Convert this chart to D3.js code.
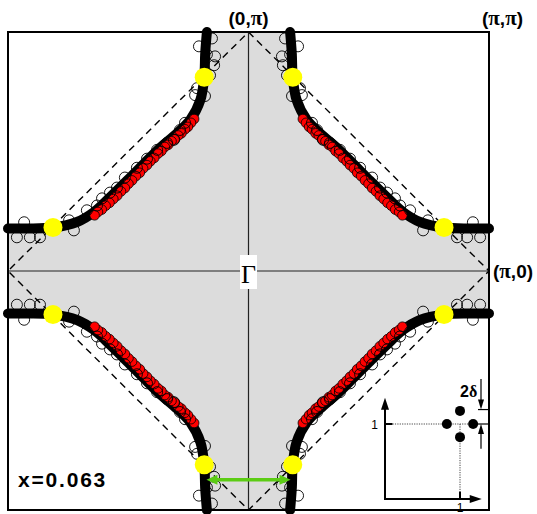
<!DOCTYPE html>
<html>
<head>
<meta charset="utf-8">
<script src="https://cdn.jsdelivr.net/npm/d3@7"></script>
<style>
  body { margin: 0; background: #fff; }
  text { font-family: "Liberation Sans", Arial, sans-serif; }
</style>
</head>
<body>
<svg width="537" height="514"></svg>
<script>
var width = 537,
    height = 514;

// Fermi surface, upper-right quadrant, in units of pi
var fsKx = [0.173, 0.180, 0.184, 0.200, 0.242, 0.310, 0.367, 0.435, 0.505, 0.575, 0.642, 0.713, 0.813, 0.921, 1.0];
var fsKy = [1.0, 0.911, 0.811, 0.716, 0.633, 0.565, 0.516, 0.449, 0.378, 0.309, 0.247, 0.205, 0.182, 0.178, 0.178];

// measured points (red filled), upper-right quadrant
var redKx = [0.226, 0.239, 0.252, 0.264, 0.279, 0.292, 0.306, 0.320, 0.334, 0.348, 0.362, 0.376, 0.392, 0.408, 0.422,
             0.438, 0.452, 0.468, 0.484, 0.499, 0.514, 0.530, 0.546, 0.562, 0.578, 0.594, 0.610, 0.626, 0.640];
var redKy = [0.636, 0.620, 0.603, 0.593, 0.576, 0.567, 0.551, 0.543, 0.528, 0.519, 0.502, 0.491, 0.473, 0.459, 0.443,
             0.429, 0.411, 0.397, 0.379, 0.365, 0.347, 0.333, 0.315, 0.301, 0.285, 0.273, 0.257, 0.247, 0.233];

// measured points (open), upper-right quadrant
var openKx = [0.152, 0.206, 0.139, 0.143, 0.160, 0.173, 0.214, 0.181, 0.222, 0.264, 0.285, 0.310, 0.339, 0.380, 0.422,
              0.464, 0.514, 0.547, 0.576, 0.609, 0.630, 0.672, 0.746, 0.726, 0.933, 0.867, 0.909, 0.963];
var openKy = [0.973, 0.940, 0.898, 0.861, 0.819, 0.906, 0.765, 0.732, 0.736, 0.620, 0.590, 0.549, 0.536, 0.507, 0.470,
              0.432, 0.391, 0.349, 0.328, 0.304, 0.274, 0.254, 0.212, 0.170, 0.204, 0.141, 0.141, 0.141];

// hot spots (yellow), upper-right quadrant
var hotKx = [0.184, 0.813];
var hotKy = [0.811, 0.182];

var arrowKy = -0.873;   // green 2*delta arrow
var arrowKx = [-0.175, 0.175];

var quadrants = [[1, 1], [-1, 1], [-1, -1], [1, -1]];

var svg = d3.select("svg");

var x = d3.scaleLinear().domain([-1, 1]).range([8, 489]);
var y = d3.scaleLinear().domain([-1, 1]).range([510, 32]);

function reflect(kx, ky) {
    var out = [];
    quadrants.forEach(function(q) {
        kx.forEach(function(d, i) {
            out.push([q[0] * d, q[1] * ky[i]]);
        });
    });
    return out;
}

var fs = fsKx.map(function(d, i) { return [d, fsKy[i]]; });
var line = d3.line()
    .x(function(d) { return x(d[0]); })
    .y(function(d) { return y(d[1]); })
    .curve(d3.curveCatmullRom);

var segs = [
    fs,
    fs.map(function(d) { return [d[0], -d[1]]; }).reverse(),
    fs.map(function(d) { return [-d[0], -d[1]]; }),
    fs.map(function(d) { return [-d[0], d[1]]; }).reverse()
];

// gray region inside the Fermi surface
var area = segs.map(function(s, i) {
    var p = line(s);
    return i == 0 ? p : "L" + p.slice(1);
}).join("") + "Z";

svg.append("path")
    .attr("d", area)
    .attr("fill", "#dcdcdc");

// axes through Gamma
svg.append("line")
    .attr("x1", x(0)).attr("x2", x(0))
    .attr("y1", y(1)).attr("y2", y(-1))
    .attr("stroke", "#222").attr("stroke-width", 1.2);
svg.append("line")
    .attr("x1", x(-1)).attr("x2", x(1))
    .attr("y1", y(0)).attr("y2", y(0))
    .attr("stroke", "#222").attr("stroke-width", 1.2);

// AF zone boundary
var diamond = [[0, 1], [1, 0], [0, -1], [-1, 0]];
svg.append("path")
    .attr("d", d3.line().x(function(d) { return x(d[0]); }).y(function(d) { return y(d[1]); })
        .curve(d3.curveLinearClosed)(diamond))
    .attr("fill", "none")
    .attr("stroke", "#000")
    .attr("stroke-width", 1.4)
    .attr("stroke-dasharray", "7,5");

// Fermi surface lines
svg.selectAll(".fs")
    .data(segs)
    .enter()
    .append("path")
    .attr("class", "fs")
    .attr("d", line)
    .attr("fill", "none")
    .attr("stroke", "#000")
    .attr("stroke-width", 10)
    .attr("stroke-linecap", "round");

svg.selectAll(".red")
    .data(reflect(redKx, redKy))
    .enter()
    .append("circle")
    .attr("cx", function(d) { return x(d[0]); })
    .attr("cy", function(d) { return y(d[1]); })
    .attr("r", 4.8)
    .attr("fill", "#ff0000")
    .attr("stroke", "#000")
    .attr("stroke-width", 0.8);

svg.selectAll(".open")
    .data(reflect(openKx, openKy))
    .enter()
    .append("circle")
    .attr("cx", function(d) { return x(d[0]); })
    .attr("cy", function(d) { return y(d[1]); })
    .attr("r", 5.5)
    .attr("fill", "none")
    .attr("stroke", "#000")
    .attr("stroke-width", 0.9);

svg.selectAll(".hot")
    .data(reflect(hotKx, hotKy))
    .enter()
    .append("circle")
    .attr("cx", function(d) { return x(d[0]); })
    .attr("cy", function(d) { return y(d[1]); })
    .attr("r", 9.5)
    .attr("fill", "#ffff00");

// arrowhead triangle: tip at (tx,ty), pointing along angle a
function head(g, tx, ty, a, len, wid, col) {
    var c = Math.cos(a), s = Math.sin(a);
    var bx = tx - c * len, by = ty - s * len;
    g.append("path")
        .attr("d", "M" + tx + "," + ty +
            "L" + (bx - s * wid / 2) + "," + (by + c * wid / 2) +
            "L" + (bx + s * wid / 2) + "," + (by - c * wid / 2) + "Z")
        .attr("fill", col);
}

// green double arrow
var green = "#5ccc14";
var ga = x(arrowKx[0]), gb = x(arrowKx[1]), gy = y(arrowKy);
svg.append("line")
    .attr("x1", ga + 6).attr("x2", gb - 6)
    .attr("y1", gy).attr("y2", gy)
    .attr("stroke", green)
    .attr("stroke-width", 3.5);
head(svg, ga, gy, Math.PI, 11, 10, green);
head(svg, gb, gy, 0, 11, 10, green);

// frame
svg.append("rect")
    .attr("x", x(-1)).attr("y", y(1))
    .attr("width", x(1) - x(-1)).attr("height", y(-1) - y(1))
    .attr("fill", "none")
    .attr("stroke", "#000")
    .attr("stroke-width", 2);

// Gamma label
svg.append("rect")
    .attr("x", x(0) - 8.5).attr("y", y(0) - 16)
    .attr("width", 17).attr("height", 34)
    .attr("fill", "#fff");
svg.append("text")
    .attr("x", x(0)).attr("y", y(0) + 12)
    .attr("text-anchor", "middle")
    .style("font-family", "'Liberation Serif', 'Times New Roman', serif")
    .style("font-size", "26px")
    .text("Γ");

function corner(t, px, py, anchor) {
    var el = svg.append("text")
        .attr("x", px).attr("y", py)
        .attr("text-anchor", anchor)
        .style("font-weight", "bold")
        .style("font-size", "19px");
    t.forEach(function(s) {
        var ts = el.append("tspan").text(s);
        if (s == "π") ts.style("font-family", "'Liberation Serif', serif").style("font-size", "21px");
    });
}
corner(["(", "0", ",", "π", ")"], x(0), 25, "middle");
corner(["(", "π", ",", "π", ")"], 482, 25, "start");
corner(["(", "π", ",", "0", ")"], 493, y(0) + 7, "start");

svg.append("text")
    .attr("x", 18).attr("y", 487)
    .style("font-weight", "bold")
    .style("font-size", "21px")
    .style("letter-spacing", "1.8px")
    .text("x=0.063");

// inset: incommensurate peaks
var ix = d3.scaleLinear().domain([0, 1]).range([385, 460]);
var iy = d3.scaleLinear().domain([0, 1]).range([499, 424]);
var delta = 0.175;
var peaks = [[1, 1 + delta], [1 - delta, 1], [1 + delta, 1], [1, 1 - delta]];

var inset = svg.append("g");
inset.append("line")
    .attr("x1", ix(0)).attr("y1", iy(0)).attr("x2", ix(0)).attr("y2", iy(1.3))
    .attr("stroke", "#000").attr("stroke-width", 2);
head(inset, ix(0), iy(1.35), -Math.PI / 2, 12, 8, "#000");
inset.append("line")
    .attr("x1", ix(0) - 1).attr("y1", iy(0)).attr("x2", ix(1.2)).attr("y2", iy(0))
    .attr("stroke", "#000").attr("stroke-width", 2);
head(inset, ix(1.29), iy(0), 0, 12, 8, "#000");
inset.append("line")
    .attr("x1", ix(0)).attr("x2", ix(0.1)).attr("y1", iy(1)).attr("y2", iy(1))
    .attr("stroke", "#000").attr("stroke-width", 2);
inset.append("line")
    .attr("x1", ix(1)).attr("x2", ix(1)).attr("y1", iy(0)).attr("y2", iy(0.1))
    .attr("stroke", "#000").attr("stroke-width", 2);
inset.append("line")
    .attr("x1", ix(0.1)).attr("x2", ix(1.23)).attr("y1", iy(1)).attr("y2", iy(1))
    .attr("stroke", "#444").attr("stroke-width", 1).attr("stroke-dasharray", "1.2,1.2");
inset.append("line")
    .attr("x1", ix(1)).attr("x2", ix(1)).attr("y1", iy(1)).attr("y2", iy(0.1))
    .attr("stroke", "#444").attr("stroke-width", 1).attr("stroke-dasharray", "1.2,1.2");
inset.selectAll(".pk")
    .data(peaks)
    .enter()
    .append("circle")
    .attr("cx", function(d) { return ix(d[0]); })
    .attr("cy", function(d) { return iy(d[1]); })
    .attr("r", 5)
    .attr("fill", "#000");
// 2 delta marker
var top2 = iy(1 + delta * 1.1), base2 = iy(1);
inset.append("line")
    .attr("x1", ix(1.24)).attr("x2", ix(1.4)).attr("y1", top2).attr("y2", top2)
    .attr("stroke", "#000").attr("stroke-width", 1.2);
inset.append("line")
    .attr("x1", ix(1.24)).attr("x2", ix(1.4)).attr("y1", base2).attr("y2", base2)
    .attr("stroke", "#000").attr("stroke-width", 1.2);
inset.append("line")
    .attr("x1", ix(1.28)).attr("x2", ix(1.28)).attr("y1", iy(1.6)).attr("y2", top2 - 8)
    .attr("stroke", "#000").attr("stroke-width", 1.2);
head(inset, ix(1.28), top2, Math.PI / 2, 10, 6, "#000");
inset.append("line")
    .attr("x1", ix(1.28)).attr("x2", ix(1.28)).attr("y1", iy(0.67)).attr("y2", base2 + 8)
    .attr("stroke", "#000").attr("stroke-width", 1.2);
head(inset, ix(1.28), base2, -Math.PI / 2, 10, 6, "#000");
inset.append("text")
    .attr("x", ix(0) - 7).attr("y", iy(1) + 5)
    .attr("text-anchor", "end")
    .style("font-size", "12px")
    .text("1");
inset.append("text")
    .attr("x", ix(1)).attr("y", 512)
    .attr("text-anchor", "middle")
    .style("font-size", "12px")
    .text("1");
var dl = inset.append("text")
    .attr("x", 460).attr("y", 397)
    .style("font-weight", "bold")
    .style("font-size", "16px");
dl.append("tspan").text("2");
dl.append("tspan").style("font-family", "'Liberation Serif', serif").text("δ");
</script>
</body>
</html>
